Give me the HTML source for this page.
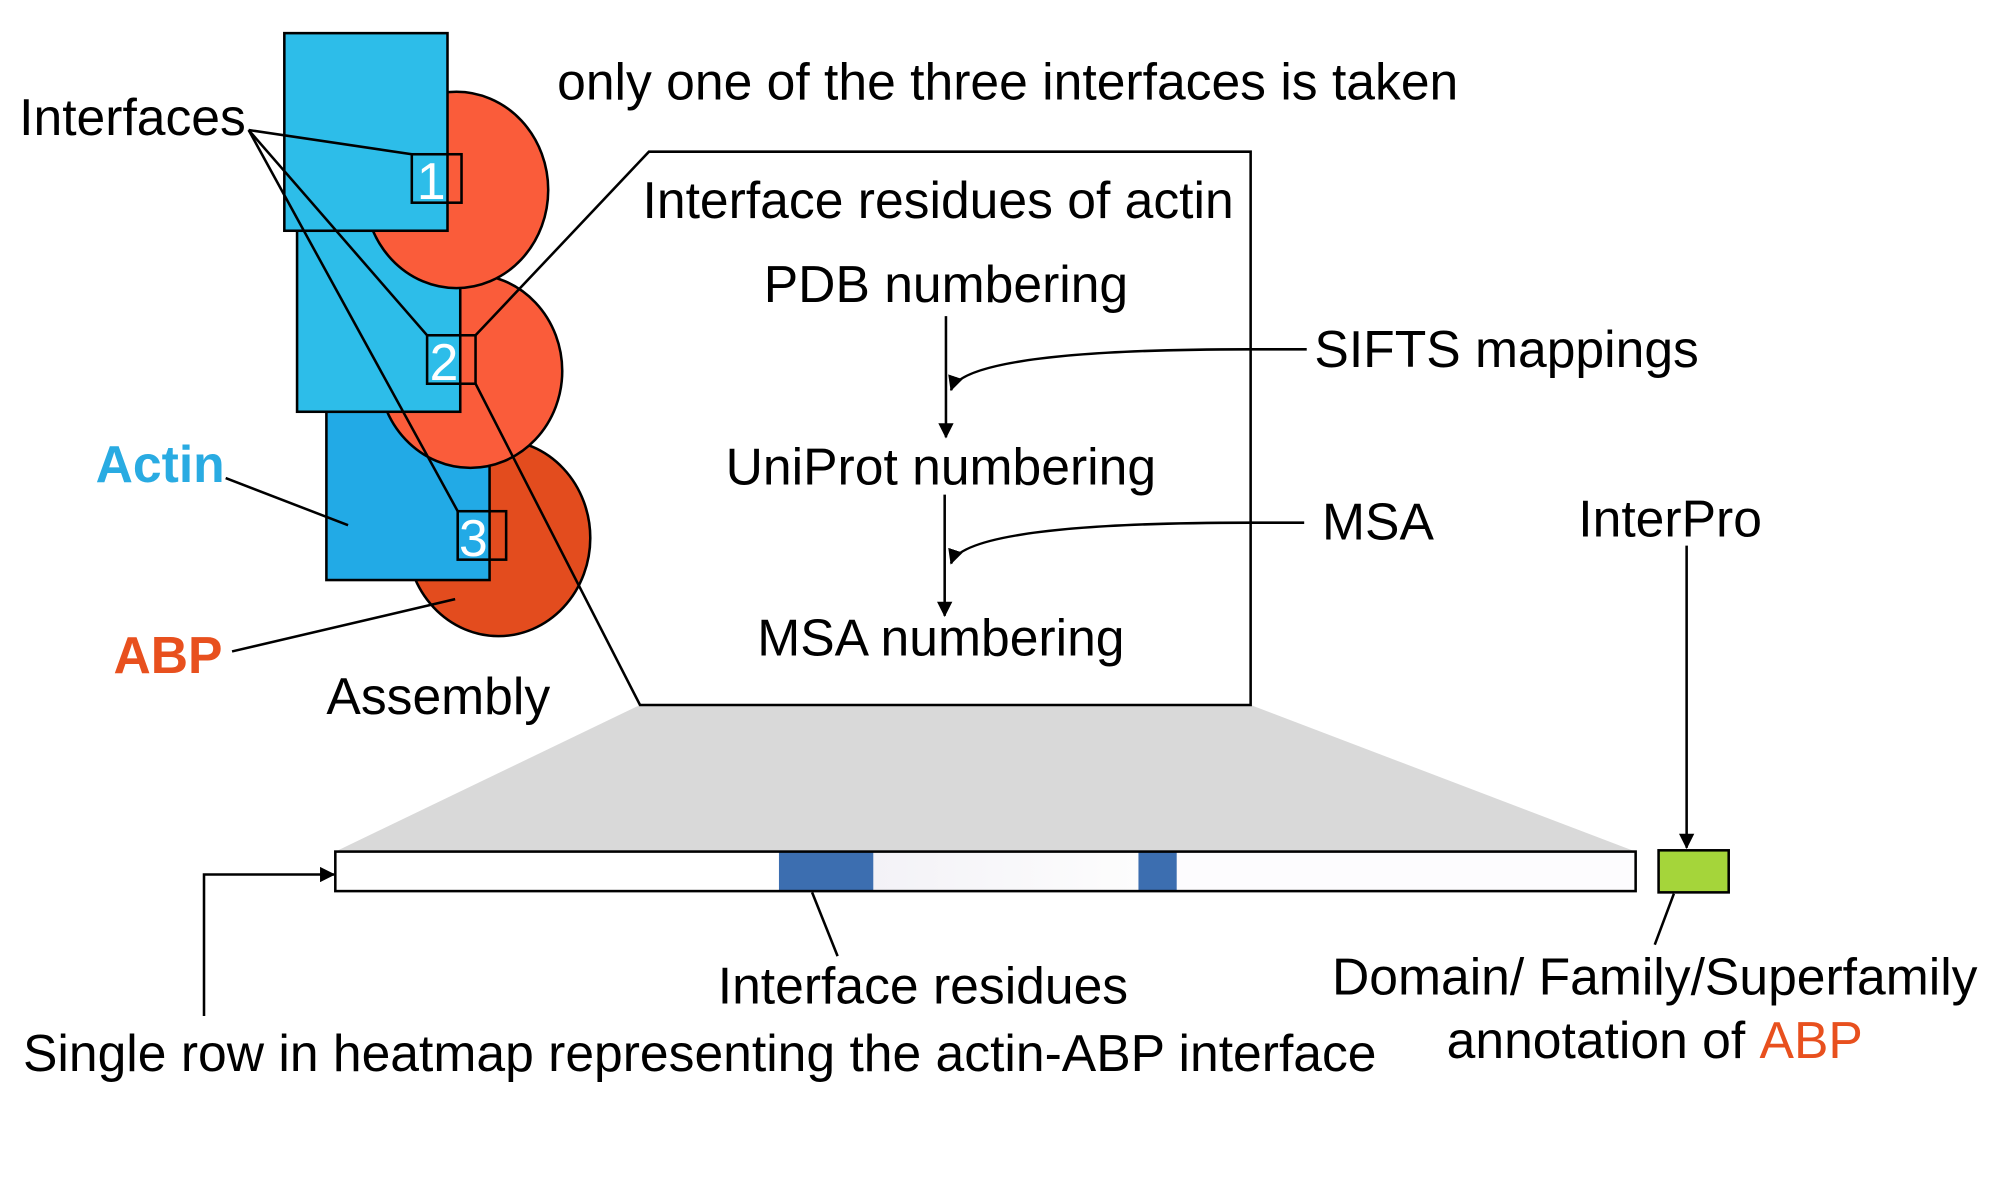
<!DOCTYPE html>
<html><head><meta charset="utf-8"><style>
html,body{margin:0;padding:0;background:#fff}
svg{display:block}
text{font-family:"Liberation Sans",Arial,sans-serif;font-size:40.5px;fill:#000}
</style></head><body>
<svg width="1999" height="1181" viewBox="0 0 1568 926.4" xmlns="http://www.w3.org/2000/svg">
<defs>
<marker id="ah" markerWidth="12" markerHeight="12" refX="11" refY="6" orient="auto" markerUnits="userSpaceOnUse">
<path d="M0,0 L12,6 L0,12 z" fill="#000"/></marker>
<linearGradient id="bg" x1="0" x2="1">
<stop offset="0" stop-color="#f3f2f7"/><stop offset="1" stop-color="#fdfdfd"/></linearGradient>
</defs>
<polygon points="502,553 981,553 1283,668 263,668" fill="#D9D9D9"/>
<rect x="509" y="119" width="472" height="434" fill="#fff"/>
<polygon points="509,119 502,553 520,553" fill="#fff"/>
<ellipse cx="391" cy="422" rx="72" ry="77" fill="#E34C1E" stroke="#000" stroke-width="2"/>
<rect x="256" y="323" width="128" height="132" fill="#22AAE6" stroke="#000" stroke-width="2"/>
<ellipse cx="369" cy="291" rx="72" ry="76" fill="#FA5C3A" stroke="#000" stroke-width="2"/>
<rect x="233" y="181" width="128" height="142" fill="#2DBDE9" stroke="#000" stroke-width="2"/>
<ellipse cx="358" cy="149" rx="72" ry="77" fill="#FA5C3A" stroke="#000" stroke-width="2"/>
<rect x="223" y="26" width="128" height="155" fill="#2DBDE9" stroke="#000" stroke-width="2"/>
<rect x="323" y="121" width="39" height="38" fill="none" stroke="#000" stroke-width="2"/>
<rect x="335" y="263" width="38" height="38" fill="none" stroke="#000" stroke-width="2"/>
<rect x="359" y="401" width="38" height="38" fill="none" stroke="#000" stroke-width="2"/>
<text x="327" y="156" style="fill:#fff">1</text>
<text x="337" y="298" style="fill:#fff">2</text>
<text x="360" y="436" style="fill:#fff">3</text>
<g stroke="#000" stroke-width="2" fill="none">
<line x1="195" y1="102" x2="323" y2="121"/>
<line x1="195" y1="102" x2="335" y2="263"/>
<line x1="195" y1="102" x2="359" y2="401"/>
<line x1="177" y1="375" x2="273" y2="412"/>
<line x1="182" y1="511" x2="357" y2="470"/>
<path d="M373,263 L509,119 L981,119 L981,553 L502,553 L373,301"/>
</g>
<text x="15" y="106">Interfaces</text>
<text x="437" y="78">only one of the three interfaces is taken</text>
<text x="75" y="378" style="fill:#29ABE2;font-weight:bold">Actin</text>
<text x="89" y="528" style="fill:#E8501E;font-weight:bold">ABP</text>
<text x="256" y="560">Assembly</text>
<text x="504" y="171">Interface residues of actin</text>
<text x="742" y="237" text-anchor="middle">PDB numbering</text>
<text x="738" y="380" text-anchor="middle">UniProt numbering</text>
<text x="738" y="514" text-anchor="middle">MSA numbering</text>
<g stroke="#000" stroke-width="2" fill="none" marker-end="url(#ah)">
<line x1="742" y1="248" x2="742" y2="343"/>
<line x1="741" y1="388" x2="741" y2="483"/>
<path d="M1025,274 L980,274 C810,274 752,288 746,306"/>
<path d="M1023,410 L980,410 C810,410 752,424 746,442"/>
<line x1="1323" y1="428" x2="1323" y2="665"/>
<path d="M160,797 L160,686 L262,686"/>
</g>
<text x="1031" y="288">SIFTS mappings</text>
<text x="1037" y="423">MSA</text>
<text x="1238" y="421">InterPro</text>
<rect x="263" y="668" width="1020" height="31" fill="#fff"/>
<rect x="685" y="668" width="208" height="31" fill="url(#bg)"/>
<rect x="923" y="668" width="360" height="31" fill="#fdfcfe"/>
<rect x="611" y="668" width="74" height="31" fill="#3C6EB0"/>
<rect x="893" y="668" width="30" height="31" fill="#3C6EB0"/>
<rect x="263" y="668" width="1020" height="31" fill="none" stroke="#000" stroke-width="2"/>
<rect x="1301" y="667" width="55" height="33" fill="#A5D53A" stroke="#000" stroke-width="2"/>
<g stroke="#000" stroke-width="2">
<line x1="637" y1="700" x2="657" y2="750"/>
<line x1="1313" y1="701" x2="1298" y2="741"/>
</g>
<text x="563" y="787">Interface residues</text>
<text x="18" y="840">Single row in heatmap representing the actin-ABP interface</text>
<text x="1298" y="780" text-anchor="middle">Domain/ Family/Superfamily</text>
<text x="1298" y="830" text-anchor="middle">annotation of <tspan style="fill:#E8501E">ABP</tspan></text>
</svg>
</body></html>
